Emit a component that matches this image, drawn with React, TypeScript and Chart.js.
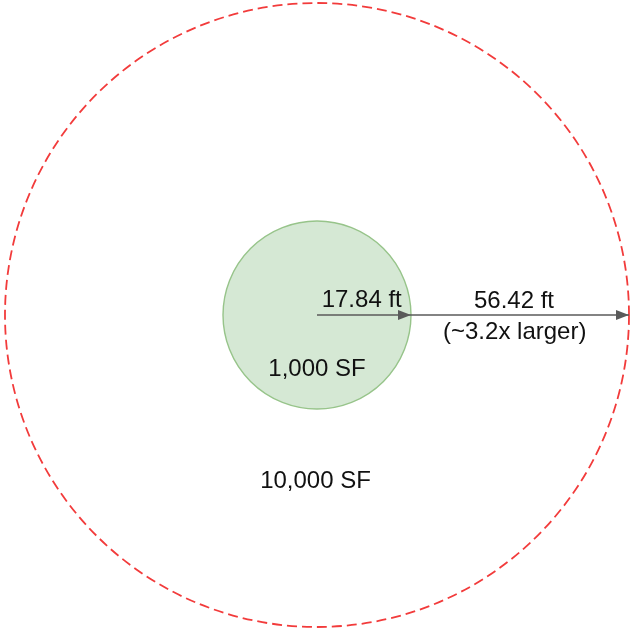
import React, { useEffect, useRef } from "react";
import { Chart, registerables } from "chart.js";

Chart.register(...registerables);

// Diagram units: 1 unit ≈ 1 px of the reference drawing, origin at the shared centre
const circleNames = ["1,000 SF", "10,000 SF"];
const circleRadii = [94, 312];
const circleFills = ["#d5e8d4", "rgba(0,0,0,0)"];
const circleStrokes = ["#97c48a", "#f23b3b"];
const circleWidths = [1.4, 1.8];
const circleDashes: number[][] = [[], [10, 5]];

const radiusLabels = ["17.84 ft", "56.42 ft"];
const ratioLabel = "(~3.2x larger)";

// label anchor points (diagram units, x right / y down from centre)
const labelTexts = [radiusLabels[0], circleNames[0], radiusLabels[1], ratioLabel, circleNames[1]];
const labelX = [44.7, 0, 197, 197.7, -1.5];
const labelY = [-8.3, 60.7, -6.7, 24.3, 172.7];

const xRange = [-317, 316];
const yRange = [-315, 315];

const diagramPlugin = {
  id: "diagram",
  beforeDatasetsDraw(chart: any) {
    const { ctx, scales } = chart;
    const xs = scales.x;
    const ys = scales.y;
    const cx = xs.getPixelForValue(0);
    const cy = ys.getPixelForValue(0);
    circleRadii.forEach((r, i) => {
      const rp = xs.getPixelForValue(r) - cx;
      ctx.save();
      ctx.beginPath();
      ctx.arc(cx, cy, rp, 0, Math.PI * 2);
      ctx.fillStyle = circleFills[i];
      ctx.fill();
      ctx.setLineDash(circleDashes[i]);
      ctx.lineWidth = circleWidths[i];
      ctx.strokeStyle = circleStrokes[i];
      ctx.stroke();
      ctx.restore();
    });
  },
  afterDatasetsDraw(chart: any) {
    const { ctx, scales } = chart;
    const xs = scales.x;
    const ys = scales.y;
    // arrow heads at the end of each arrow dataset
    chart.data.datasets.forEach((ds: any) => {
      const pts = ds.data;
      const end = pts[pts.length - 1];
      const tx = xs.getPixelForValue(end.x);
      const ty = ys.getPixelForValue(end.y);
      ctx.save();
      ctx.beginPath();
      ctx.moveTo(tx, ty);
      ctx.lineTo(tx - 13, ty - 5);
      ctx.lineTo(tx - 13, ty + 5);
      ctx.closePath();
      ctx.fillStyle = ds.borderColor;
      ctx.fill();
      ctx.restore();
    });
    ctx.save();
    ctx.font = "24px 'Liberation Sans', Arial, sans-serif";
    ctx.fillStyle = "#111111";
    ctx.textAlign = "center";
    ctx.textBaseline = "alphabetic";
    labelTexts.forEach((t, i) => {
      ctx.fillText(t, xs.getPixelForValue(labelX[i]), ys.getPixelForValue(labelY[i]));
    });
    ctx.restore();
  },
};

export default function App() {
  const ref = useRef<HTMLCanvasElement>(null);
  useEffect(() => {
    if (!ref.current) return;
    const chart = new Chart(ref.current, {
      type: "line",
      data: {
        datasets: [
          {
            label: radiusLabels[0],
            data: [
              { x: 0, y: 0 },
              { x: circleRadii[0], y: 0 },
            ],
            borderColor: "#5a5a5a",
            borderWidth: 1.7,
            pointRadius: 0,
          },
          {
            label: radiusLabels[1],
            data: [
              { x: circleRadii[0], y: 0 },
              { x: circleRadii[1], y: 0 },
            ],
            borderColor: "#5a5a5a",
            borderWidth: 1.7,
            pointRadius: 0,
          },
        ],
      },
      options: {
        animation: false,
        responsive: true,
        maintainAspectRatio: false,
        layout: { padding: 0 },
        plugins: { legend: { display: false }, tooltip: { enabled: false } },
        scales: {
          x: { type: "linear", display: false, min: xRange[0], max: xRange[1] },
          y: { type: "linear", display: false, min: yRange[0], max: yRange[1], reverse: true },
        },
      },
      plugins: [diagramPlugin],
    });
    return () => chart.destroy();
  }, []);
  return (
    <div style={{ position: "fixed", left: 0, top: 0, width: 633, height: 630, background: "#fff" }}>
      <canvas ref={ref} />
    </div>
  );
}
